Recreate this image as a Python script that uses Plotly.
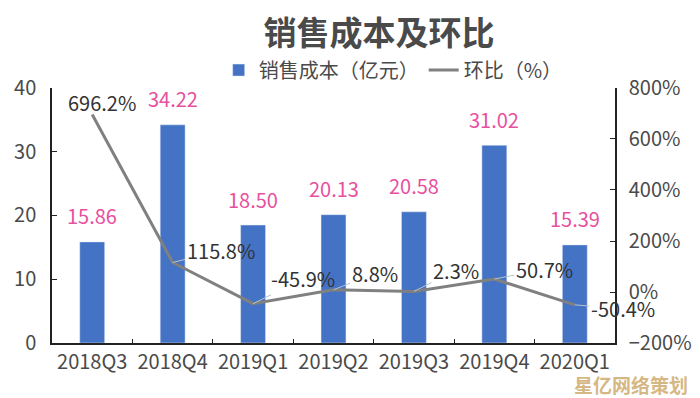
import plotly.graph_objects as go

categories = ["2018Q3", "2018Q4", "2019Q1", "2019Q2", "2019Q3", "2019Q4", "2020Q1"]
cost = [15.86, 34.22, 18.50, 20.13, 20.58, 31.02, 15.39]
qoq = [696.2, 115.8, -45.9, 8.8, 2.3, 50.7, -50.4]
cost_labels = ["15.86", "34.22", "18.50", "20.13", "20.58", "31.02", "15.39"]
qoq_labels = ["696.2%", "115.8%", "-45.9%", "8.8%", "2.3%", "50.7%", "-50.4%"]
# label offsets (px) for the ratio labels relative to their points
qoq_ax = [10, 48, 50, 41, 42, 50, 48]
qoq_ay = [-12, -12, -25, -16, -21, -10, 4]

FONT = "Noto Sans CJK SC"
TXT = "#4a4a4a"

fig = go.Figure()
fig.add_trace(go.Bar(
    x=categories, y=cost, name="销售成本（亿元）",
    marker=dict(color="#4472C4"), width=0.31, yaxis="y",
))
fig.add_trace(go.Scatter(
    x=categories, y=qoq, name="环比（%）", mode="lines",
    line=dict(color="#808080", width=3), yaxis="y2",
))

ann = []
for c, v, t in zip(categories, cost, cost_labels):
    ann.append(dict(x=c, y=v, xref="x", yref="y", text=t, showarrow=False,
                    yshift=26, font=dict(family=FONT, size=20, color="#E8509F")))
for c, v, t, ax, ay in zip(categories, qoq, qoq_labels, qoq_ax, qoq_ay):
    ann.append(dict(x=c, y=v, xref="x", yref="y2", text=t, showarrow=True,
                    arrowhead=0, arrowwidth=1, arrowcolor="#b8c4d0",
                    ax=ax, ay=ay, standoff=0, startstandoff=0,
                    font=dict(family=FONT, size=20, color="#333333")))
ann.append(dict(x=1.0, y=0.0, xref="paper", yref="paper", xanchor="right",
                yanchor="top", text="<b>星亿网络策划</b>", showarrow=False, xshift=75,
                yshift=-26, font=dict(family=FONT, size=19, color="rgba(200,160,90,0.75)")))

fig.update_layout(
    width=700, height=398,
    margin=dict(l=44, r=93, t=12, b=63),
    paper_bgcolor="white", plot_bgcolor="white",
    title=dict(text="<b>销售成本及环比</b>", x=0.530, xanchor="center", y=0.935,
               yanchor="middle", font=dict(family=FONT, size=33, color=TXT)),
    legend=dict(orientation="h", x=0.606, xanchor="center", y=0.845, yanchor="middle",
                font=dict(family=FONT, size=20, color=TXT),
                bgcolor="rgba(0,0,0,0)", itemwidth=30),
    showlegend=True,
    bargap=0.2,
    font=dict(family=FONT, size=20, color=TXT),
    xaxis=dict(range=[-0.5, 6.5], autorange=False,
               showline=True, linecolor="#222", linewidth=1.5, ticks="inside",
               tickson="boundaries", ticklen=4, tickcolor="#222", tickangle=0,
               automargin=False,
               tickfont=dict(family=FONT, size=20, color=TXT), showgrid=False,
               zeroline=False),
    yaxis=dict(range=[0, 40], dtick=10, showline=True, linecolor="#222", linewidth=1.5,
               domain=[0, 0.7895], automargin=False,
               ticks="inside", ticklen=5, tickcolor="#222", showgrid=False, zeroline=False,
               ticklabelstandoff=10,
               tickfont=dict(family=FONT, size=20, color=TXT)),
    yaxis2=dict(range=[-200, 800], dtick=200, overlaying="y", side="right",
                showline=True, linecolor="#222", linewidth=1.5, ticks="inside",
                ticklen=5, tickcolor="#222", showgrid=False, zeroline=False,
                ticklabelstandoff=8, automargin=False,
                ticksuffix="%", tickfont=dict(family=FONT, size=20, color=TXT)),
    annotations=ann,
)
fig.write_html("out.html")
